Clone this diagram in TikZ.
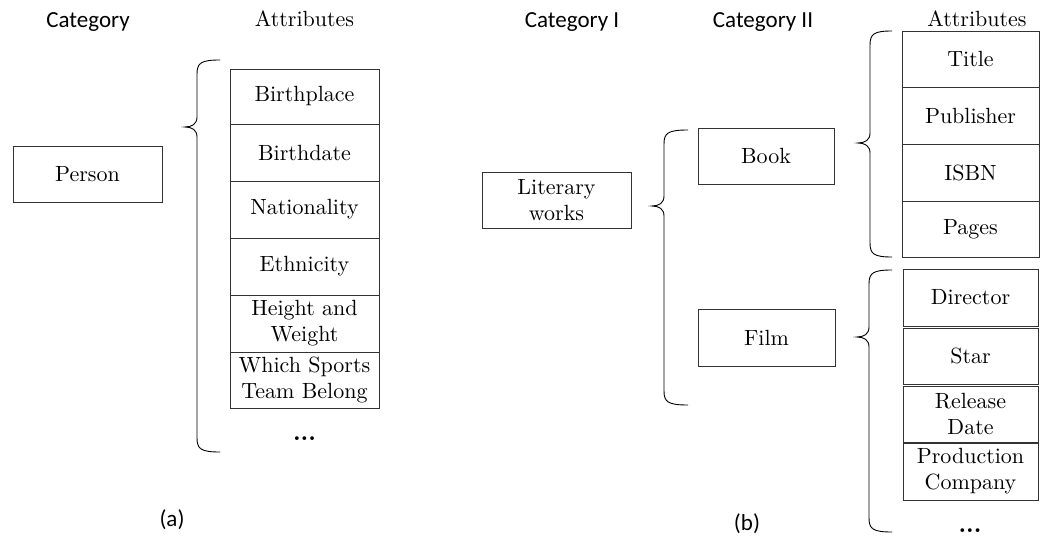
\documentclass[tikz,border=0pt]{standalone}
\usepackage{fontspec}
\setmainfont{lmroman10-regular.otf}[BoldFont=lmroman10-bold.otf]
\newfontfamily\hdfont{Carlito}
\newcommand\bx[6]{\node[box, minimum width={(#4-#2)*1pt}, minimum height={(#5-#3)*1pt}] (#1) at ({(#2+#4)/2},{(#3+#5)/2}) {#6};}
\newcommand\brc[5]{%
\draw[brace] (#5,#2) .. controls ({#1+4},#2) and (#1,{#2+3}) .. (#1,{#2+14}) -- (#1,{#4-10}) .. controls (#1,{#4-3}) and ({#1-5},#4) .. ({#1-12},#4) .. controls ({#1-5},#4) and (#1,{#4+3}) .. (#1,{#4+10}) -- (#1,{#3-14}) .. controls (#1,{#3-3}) and ({#1+4},#3) .. (#5,#3);}
\begin{document}
\begin{tikzpicture}[x=1pt,y=-1pt,
  box/.style={draw=black!80, line width=0.9pt, inner sep=0pt, align=center, font=\fontsize{22}{26}\selectfont},
  hd/.style={anchor=base, inner sep=0pt, font=\hdfont\fontsize{23}{28}\selectfont},
  hds/.style={anchor=base, inner sep=0pt, font=\fontsize{22}{26}\selectfont},
  dots/.style={anchor=base, inner sep=0pt, font=\fontsize{24}{26}\selectfont\bfseries},
  brace/.style={draw=black, line width=0.9pt}]
\useasboundingbox (0,0) rectangle (1044,537);
% headers
\node[hd] (catA) at (88,28) {Category};
\node[hds] (attA) at (304.5,27) {Attributes};
\node[hd] (cat1) at (572,28) {Category I};
\node[hd] (cat2) at (763,28) {Category II};
\node[hds] (attB) at (977,27) {Attributes};
\node[hd] (la) at (172,526) {(a)};
\node[hd] (lb) at (747,530) {(b)};
% (a)
\bx{person}{13}{146}{162}{202}{Person}
\bx{a1}{230}{69}{379}{124}{Birthplace}
\bx{a2}{230}{124}{379}{181}{Birthdate}
\bx{a3}{230}{181}{379}{238}{Nationality}
\bx{a4}{230}{238}{379}{295}{Ethnicity}
\bx{a5}{230}{295}{379}{352}{Height and\\Weight}
\bx{a6}{230}{352}{379}{408}{Which Sports\\Team Belong}
\node[dots] (dA) at (304.5,440) {...};
\brc{197}{60}{452}{127}{220}
% (b)
\bx{lit}{482}{172}{631}{228}{Literary\\works}
\bx{book}{698}{128}{834}{184}{Book}
\bx{film}{698}{309}{835}{366}{Film}
\brc{664}{130}{405}{206}{688}
\bx{b1}{902}{31}{1039}{87}{Title}
\bx{b2}{902}{87}{1039}{144}{Publisher}
\bx{b3}{902}{144}{1039}{201}{ISBN}
\bx{b4}{902}{201}{1039}{257}{Pages}
\brc{870}{31}{257}{143}{892}
\bx{f1}{903}{269}{1038}{326}{Director}
\bx{f2}{903}{328}{1038}{384}{Star}
\bx{f3}{903}{386}{1038}{442}{Release\\Date}
\bx{f4}{903}{443}{1038}{500}{Production\\Company}
\node[dots] (dB) at (970,532) {...};
\brc{869}{270}{532}{337}{892}
\end{tikzpicture}
\end{document}
